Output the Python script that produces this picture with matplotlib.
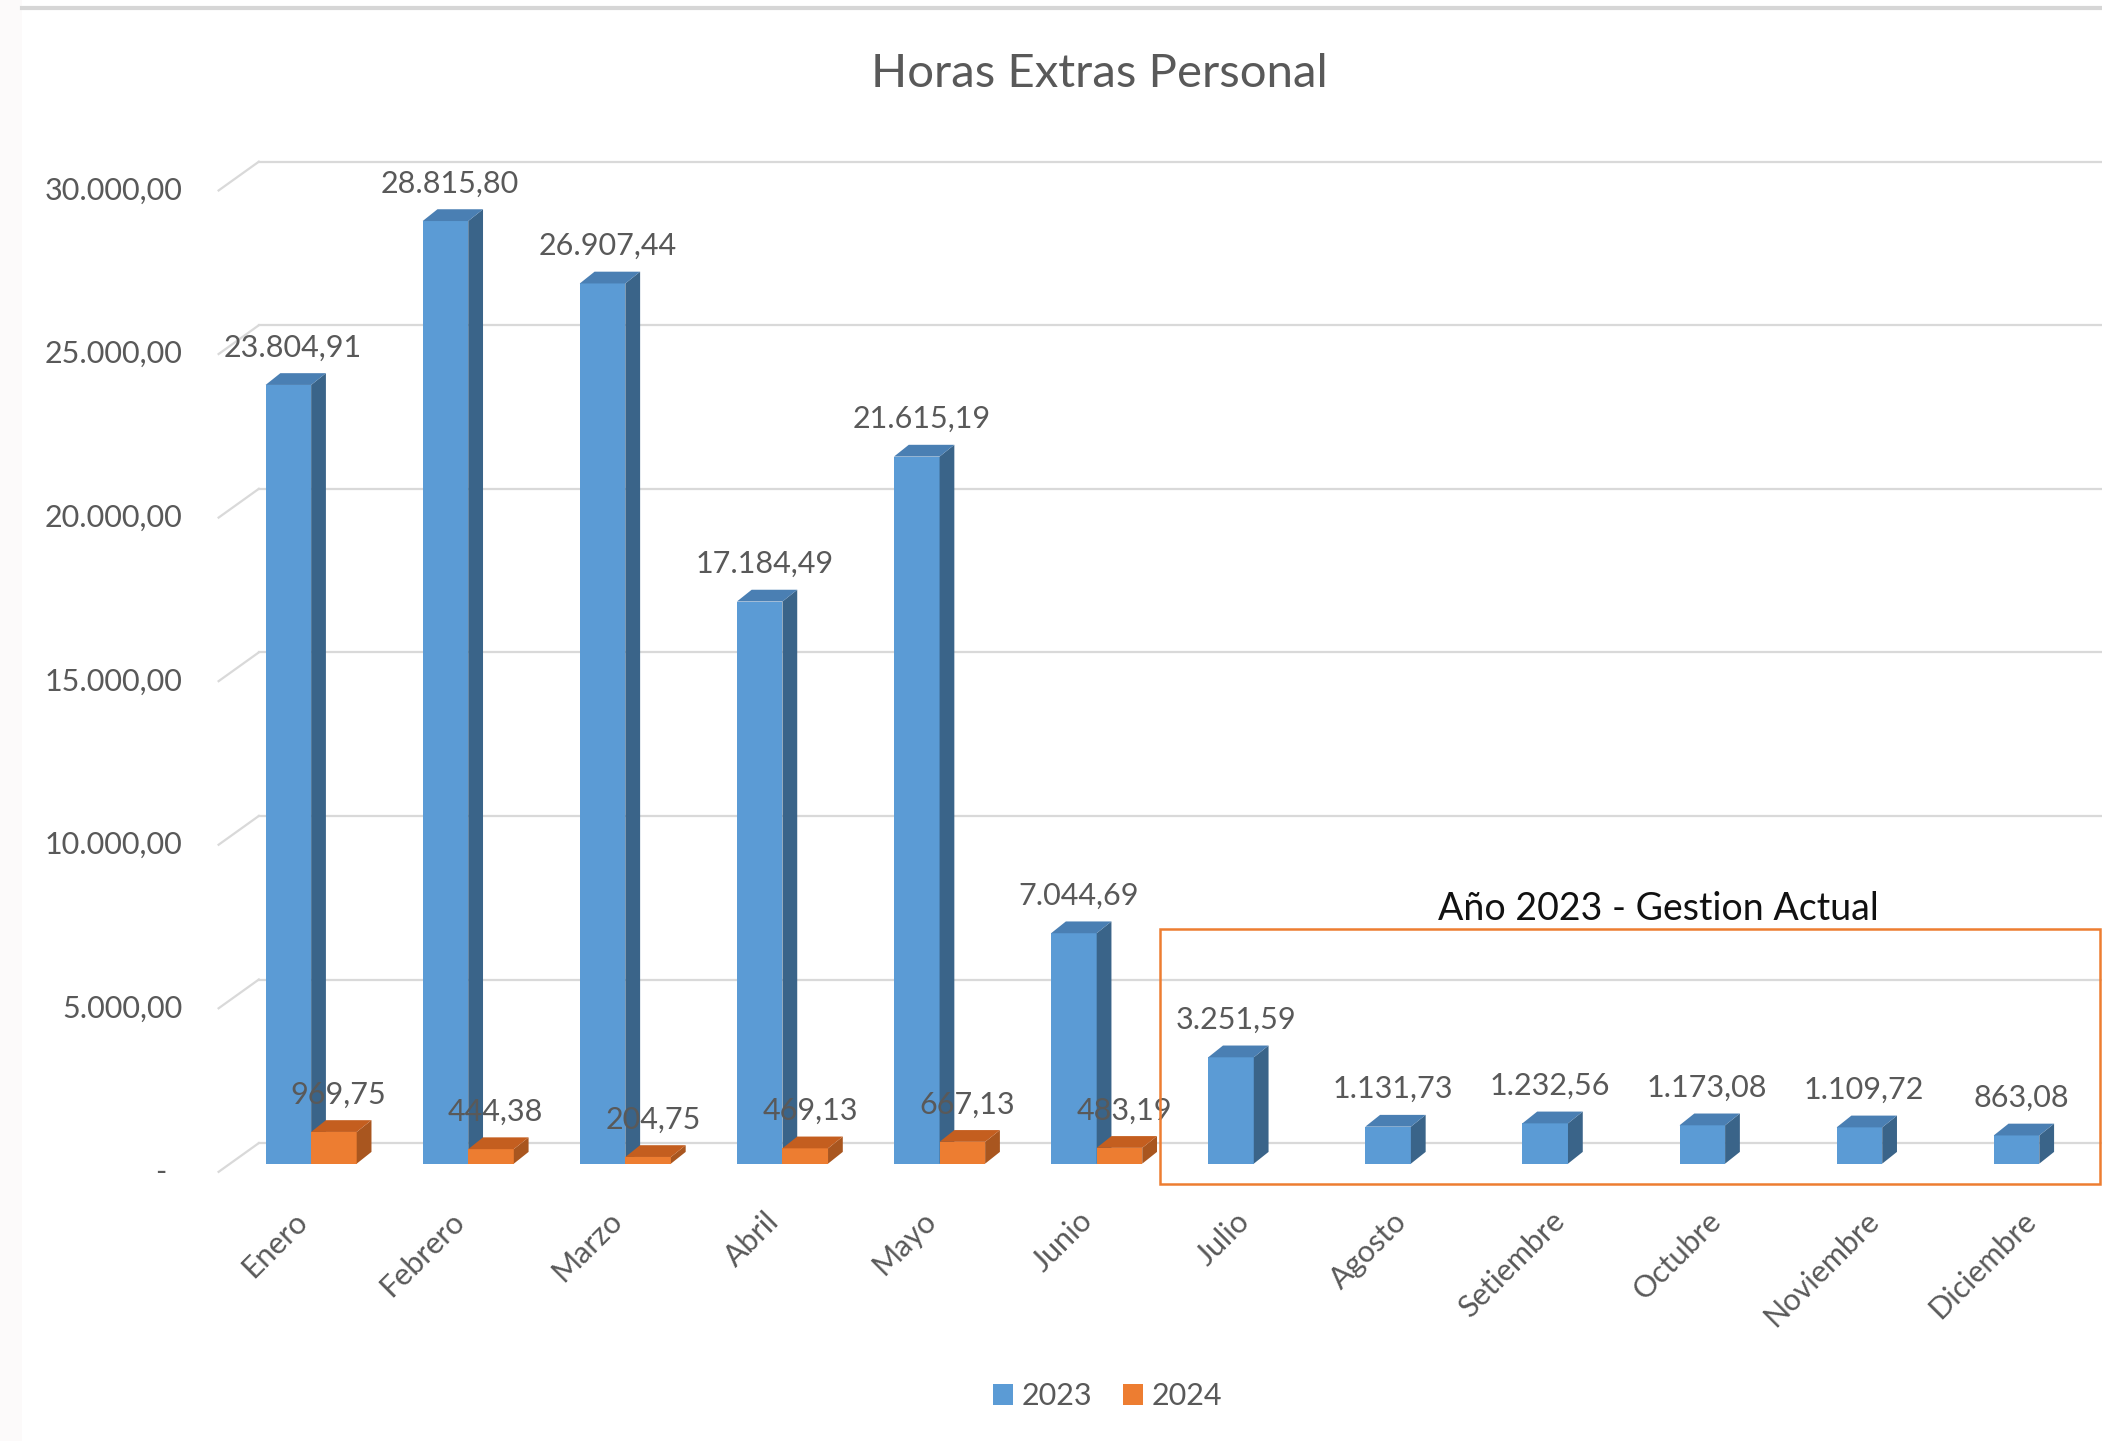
import matplotlib

matplotlib.use("Agg")
import matplotlib.pyplot as plt
import numpy as np
from matplotlib.patches import Patch, Polygon, Rectangle

plt.rcParams["font.family"] = ["Lato", "DejaVu Sans"]

months = ["Enero", "Febrero", "Marzo", "Abril", "Mayo", "Junio",
          "Julio", "Agosto", "Setiembre", "Octubre", "Noviembre", "Diciembre"]
horas_2023 = [23804.91, 28815.80, 26907.44, 17184.49, 21615.19, 7044.69,
              3251.59, 1131.73, 1232.56, 1173.08, 1109.72, 863.08]
horas_2024 = [969.75, 444.38, 204.75, 469.13, 667.13, 483.19,
              np.nan, np.nan, np.nan, np.nan, np.nan, np.nan]
yticks = [0, 5000, 10000, 15000, 20000, 25000, 30000]
ytick_labels = ["-", "5.000,00", "10.000,00", "15.000,00", "20.000,00", "25.000,00", "30.000,00"]
series_names = ["2023", "2024"]

TXT = "#595959"
GRID = "#d9d9d9"
STYLE = {
    "2023": dict(front="#5b9bd5", side="#3a6489", top="#4a7fb3"),
    "2024": dict(front="#ed7d31", side="#a9561f", top="#c45e1f"),
}

# pseudo-3D geometry (data units)
BAR_W = 0.29
DEPTH_X, DEPTH_Y = 0.094, 360
BACK_X, BACK_Y = 0.256, 630
FLOOR_DROP = 250


def fmt(v):
    s = f"{v:,.2f}"
    return s.replace(",", "X").replace(".", ",").replace("X", ".")


def bar3d(ax, x0, v, st):
    x1 = x0 + BAR_W
    ax.add_patch(Rectangle((x0, 0), BAR_W, v, fc=st["front"], ec="none", zorder=3))
    ax.add_patch(Polygon([(x1, 0), (x1 + DEPTH_X, DEPTH_Y), (x1 + DEPTH_X, v + DEPTH_Y), (x1, v)],
                         closed=True, fc=st["side"], ec="none", zorder=3))
    ax.add_patch(Polygon([(x0, v), (x0 + DEPTH_X, v + DEPTH_Y), (x1 + DEPTH_X, v + DEPTH_Y), (x1, v)],
                         closed=True, fc=st["top"], ec="none", zorder=3))


fig = plt.figure(figsize=(21.02, 14.41), dpi=100)
ax = fig.add_axes([0.104, 0.1584, 0.896, 0.7605])
ax.set_xlim(-0.589, 11.399)
ax.set_ylim(-1500, 32000)
ax.axis("off")

# page decorations
fig.patches.append(Rectangle((0, 0), 22 / 2102, 1, transform=fig.transFigure, fc="#fcfafa", ec="none"))
fig.add_artist(plt.Line2D([22 / 2102, 1], [1 - 8 / 1441] * 2, transform=fig.transFigure, color="#d6d6d6", lw=3))

# gridlines on back wall + floor diagonals
xl, xr = ax.get_xlim()
for v, lab in zip(yticks, ytick_labels):
    ax.plot([xl, xl + BACK_X], [v - FLOOR_DROP, v + BACK_Y], color=GRID, lw=1.6, zorder=1, clip_on=False)
    ax.plot([xl + BACK_X, xr], [v + BACK_Y, v + BACK_Y], color=GRID, lw=1.6, zorder=1, clip_on=False)
    ax.annotate(lab + ("  " if lab == "-" else ""), xy=(xl, v), xytext=(-26, -6), textcoords="offset points",
                ha="right", va="center", fontsize=22, color=TXT)

x = np.arange(len(months))
for i in x:
    bar3d(ax, i - BAR_W, horas_2023[i], STYLE["2023"])
    if not np.isnan(horas_2024[i]):
        bar3d(ax, i, horas_2024[i], STYLE["2024"])

for i in x:
    ax.annotate(fmt(horas_2023[i]), xy=(i - BAR_W / 2 + 0.03, horas_2023[i]), xytext=(0, 27),
                textcoords="offset points", ha="center", va="center", fontsize=22, color=TXT, zorder=5)
    if not np.isnan(horas_2024[i]):
        ax.annotate(fmt(horas_2024[i]), xy=(i + BAR_W / 2 + 0.03, horas_2024[i]), xytext=(0, 27),
                    textcoords="offset points", ha="center", va="center", fontsize=22, color=TXT, zorder=5)
    ax.annotate(months[i], xy=(i, 0), xytext=(-6, -38), textcoords="offset points",
                ha="right", va="center", rotation=45, rotation_mode="anchor", fontsize=22, color=TXT)

# highlight box for current management
ax.add_patch(Rectangle((5.40, -615), 11.385 - 5.40, 7172 + 615, fill=False, ec="#ed7d31", lw=1.8,
                       zorder=6, clip_on=False))
ax.text(8.575, 7787, "Año 2023 - Gestion Actual", ha="center", va="center", fontsize=27, color="#111111")

fig.text(0.523, 1 - 74 / 1441, "Horas Extras Personal", ha="center", va="center", fontsize=34, color=TXT)

handles = [Patch(fc=STYLE[n]["front"], ec="none", label=n) for n in series_names]
fig.legend(handles=handles, loc="center", bbox_to_anchor=(0.527, 0.031), ncol=2, frameon=False,
           fontsize=22, labelcolor=TXT, handlelength=0.65, handleheight=0.65, handletextpad=0.3,
           columnspacing=1.0)

fig.savefig("out.png", dpi=100)
